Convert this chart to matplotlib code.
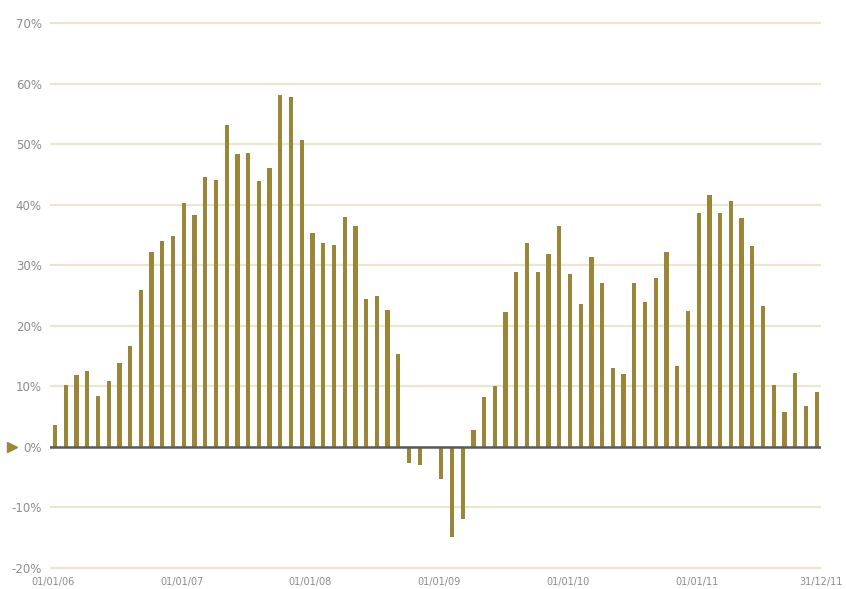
import numpy as np
import matplotlib
matplotlib.use("Agg")
import matplotlib.pyplot as plt
from matplotlib.transforms import blended_transform_factory

# monthly values, Jan 2006 .. Dec 2011 (%)
values = [3.7, 10.2, 11.8, 12.5, 8.4, 10.9, 13.8, 16.6, 25.9, 32.2, 34.0, 34.8,
          40.3, 38.3, 44.6, 44.1, 53.1, 48.3, 48.5, 43.9, 46.0, 58.1, 57.8, 50.7,
          35.3, 33.6, 33.4, 37.9, 36.5, 24.4, 24.9, 22.6, 15.3, -2.7, -3.0, 0.0,
          -5.3, -14.8, -11.9, 2.8, 8.3, 10.1, 22.3, 28.8, 33.6, 28.9, 31.8, 36.4,
          28.5, 23.6, 31.4, 27.0, 13.1, 12.0, 27.0, 23.9, 27.9, 32.2, 13.4, 22.5,
          38.7, 41.6, 38.7, 40.6, 37.8, 33.1, 23.3, 10.3, 5.8, 12.2, 6.8, 9.0]
date_labels = ["01/01/06", "01/01/07", "01/01/08", "01/01/09", "01/01/10", "01/01/11", "31/12/11"]
date_pos = [0, 12, 24, 36, 48, 60, 71.6]
y_ticks = [-20, -10, 0, 10, 20, 30, 40, 50, 60, 70]

bar_color = "#9a8636"
grid_color = "#ebe6d0"
text_color = "#8c8c8c"

fig = plt.figure(figsize=(8.46, 5.89), dpi=100)
ax = fig.add_axes([0.0591, 0.0253, 0.9113, 0.946])

x = np.arange(len(values))
ax.bar(x, values, width=0.4, color=bar_color, zorder=3)

ax.set_xlim(-0.47, 71.4)
ax.set_ylim(-21, 71)

ax.set_yticks(y_ticks)
ax.set_yticklabels(["{}%".format(v) for v in y_ticks])
ax.set_xticks([p - 0.2 for p in date_pos])
ax.set_xticklabels(date_labels)

ax.yaxis.grid(True, color=grid_color, lw=1.6, zorder=0)
ax.axhline(0, color="#5a5a5a", lw=1.8, zorder=4)

for s in ax.spines.values():
    s.set_visible(False)
ax.tick_params(axis="y", length=0, pad=6, labelsize=8.5, labelcolor=text_color)
ax.tick_params(axis="x", length=0, pad=2, labelsize=7, labelcolor=text_color)

# small arrow marker pointing at the 0% line, left of the label
trans = blended_transform_factory(fig.transFigure, ax.transData)
ax.plot([0.0142], [0], transform=trans, marker=">", markersize=7,
        color=bar_color, clip_on=False, zorder=5)

fig.savefig("out.png", dpi=100)
